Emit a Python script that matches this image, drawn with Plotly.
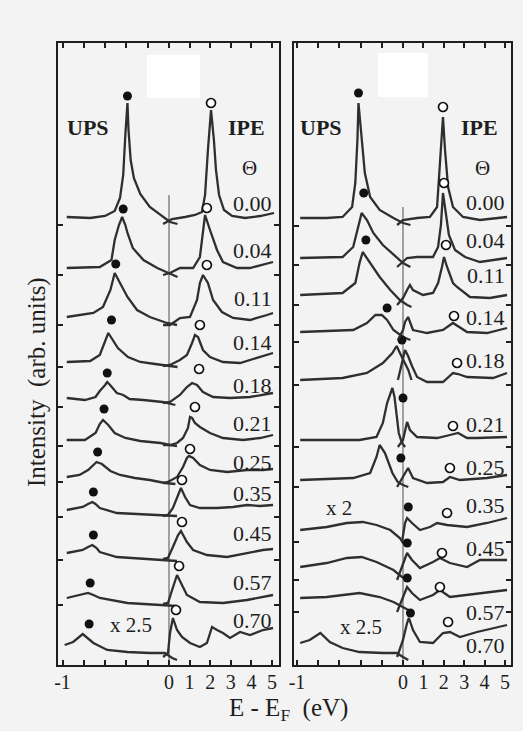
import plotly.graph_objects as go

# ---------------- data ----------------
THETA = ["0.00", "0.04", "0.11", "0.14", "0.18", "0.21", "0.25", "0.35", "0.45", "0.57", "0.70"]

# vertical offsets (baseline of every spectrum, arb. units)
L_OFF = [440, 390, 340, 298, 258, 219, 183, 148, 105, 60, 5]
R_OFF = [439, 400, 360, 323, 280, 218, 178, 123, 85, 53, 5]

# Θ label heights (arb. units)
L_LABEL_Y = [462, 415, 367, 323, 280, 242, 203, 172, 132, 83, 45]
R_LABEL_Y = [463, 425, 390, 348, 305, 241, 198, 160, 117, 53, 20]

# ---- left panel, UPS (E - EF < 0) ----
L_UPS_E = [
    [-0.96, -0.74, -0.60, -0.51, -0.46, -0.43, -0.41, -0.39, -0.38, -0.36, -0.33, -0.27, -0.18, -0.08, 0.01, 0.08],
    [-0.96, -0.65, -0.54, -0.51, -0.47, -0.44, -0.41, -0.39, -0.34, -0.24, -0.11, 0.01, 0.08],
    [-0.96, -0.71, -0.62, -0.55, -0.51, -0.46, -0.39, -0.30, -0.18, -0.02, 0.075],
    [-0.96, -0.74, -0.65, -0.60, -0.57, -0.54, -0.48, -0.385, -0.27, -0.13, 0.01, 0.08],
    [-0.96, -0.79, -0.69, -0.65, -0.60, -0.58, -0.545, -0.49, -0.43, -0.37, -0.24, -0.06, 0.06],
    [-0.96, -0.79, -0.69, -0.65, -0.62, -0.57, -0.51, -0.41, -0.27, -0.08, 0.01, 0.075],
    [-0.96, -0.84, -0.76, -0.71, -0.68, -0.63, -0.55, -0.46, -0.32, -0.18, -0.04, 0.06],
    [-0.96, -0.81, -0.76, -0.72, -0.69, -0.65, -0.49, -0.27, -0.02, 0.075],
    [-0.96, -0.81, -0.76, -0.72, -0.68, -0.65, -0.49, -0.18, -0.02, 0.075],
    [-0.96, -0.84, -0.76, -0.71, -0.65, -0.39, -0.02, 0.075],
    [-0.98, -0.90, -0.81, -0.71, -0.58, -0.39, -0.18, -0.04, 0.03, 0.075],
]
L_UPS_I = [
    [8, 7, 9, 14, 27, 50, 90, 122, 95, 65, 47, 31, 18, 10, 3, 1],
    [7, 8, 15, 35, 50, 58, 50, 42, 27, 15, 7, 1, -2],
    [8, 12, 18, 35, 52, 42, 28, 15, 8, 2, 0],
    [5, 6, 12, 25, 34, 29, 19, 10, 5, 3, 1, 0],
    [9, 7, 10, 16, 22, 25, 21, 14, 12, 8, 7, 5, 2],
    [6, 6, 13, 22, 26, 21, 13, 8, 5, 3, 1, 0],
    [5, 7, 12, 17, 20, 18, 11, 7, 4, 2, -1, -2],
    [7, 10, 13, 15, 13, 9, 4, 3, 2, 1],
    [7, 10, 13, 15, 12, 8, 3, 1, 0, -1],
    [7, 10, 12, 10, 7, 2, 0, -1],
    [15, 18, 26, 17, 10, 8, 7, 7, 2, 0],
]
# ---- left panel, IPE (E - EF > 0) ----
L_IPE_E = [
    [-0.29, 0.15, 0.78, 1.26, 1.60, 1.75, 1.89, 2.04, 2.18, 2.28, 2.43, 2.67, 3.06, 3.69, 4.42, 5.10],
    [-0.29, 0.05, 0.53, 1.17, 1.50, 1.65, 1.75, 1.99, 2.33, 2.62, 3.30, 3.93, 4.56, 5.05],
    [-0.29, 0.05, 0.53, 1.02, 1.36, 1.50, 1.65, 1.89, 2.14, 2.57, 3.11, 3.93, 4.76, 5.05],
    [-0.29, 0.05, 0.53, 0.87, 1.12, 1.26, 1.41, 1.65, 1.99, 2.62, 3.45, 4.27, 5.05],
    [-0.29, 0.05, 0.53, 0.87, 1.12, 1.36, 1.65, 2.14, 2.96, 3.93, 5.05],
    [-0.29, 0.05, 0.39, 0.68, 0.92, 1.02, 1.12, 1.26, 1.50, 1.99, 2.62, 3.59, 4.42, 5.05],
    [-0.29, -0.05, 0.39, 0.68, 0.87, 0.97, 1.17, 1.50, 1.99, 2.82, 3.79, 4.56, 5.05],
    [-0.29, -0.05, 0.19, 0.39, 0.58, 0.78, 1.02, 1.50, 2.33, 3.11, 3.79, 4.42, 5.05],
    [-0.29, -0.05, 0.19, 0.44, 0.58, 0.87, 1.17, 1.84, 2.82, 3.79, 4.56, 5.05],
    [-0.29, -0.05, 0.15, 0.34, 0.39, 0.63, 0.87, 1.50, 2.62, 3.79, 5.05],
    [-0.29, -0.05, 0.05, 0.19, 0.39, 0.63, 1.02, 1.50, 1.84, 2.09, 2.33, 2.62, 2.96, 3.45, 3.93, 4.56, 5.05],
]
L_IPE_I = [
    [1, 6, 8, 10, 13, 30, 75, 115, 85, 55, 30, 15, 9, 7, 9, 12],
    [0, 2, 7, 7, 18, 42, 60, 45, 25, 13, 7, 7, 10, 13],
    [0, 0, 7, 8, 25, 42, 50, 42, 25, 13, 7, 5, 10, 12],
    [1, 2, 7, 12, 24, 32, 30, 17, 10, 5, 4, 9, 14],
    [4, 5, 12, 20, 24, 22, 15, 10, 9, 10, 14],
    [1, 1, 3, 8, 18, 29, 28, 23, 19, 13, 8, 6, 8, 11],
    [-1, 0, 5, 15, 24, 26, 24, 17, 12, 10, 12, 12, 13],
    [1, 2, 9, 20, 29, 20, 12, 9, 9, 10, 12, 11, 12],
    [1, 2, 13, 25, 29, 18, 10, 5, 3, 7, 10, 11],
    [1, 2, 15, 27, 30, 20, 10, 3, 2, 5, 10],
    [3, 7, 27, 42, 30, 23, 17, 13, 17, 33, 30, 27, 22, 28, 25, 30, 32],
]
L_UPS_PK_E = [-0.39, -0.43, -0.50, -0.54, -0.58, -0.61, -0.67, -0.71, -0.71, -0.74, -0.75]
L_UPS_PK_I = [129, 66, 61, 47, 34, 37, 30, 25, 25, 22, 36]
L_IPE_PK_E = [2.04, 1.84, 1.84, 1.50, 1.46, 1.26, 1.02, 0.63, 0.63, 0.49, 0.34]
L_IPE_PK_I = [122, 67, 60, 42, 38, 39, 33, 37, 38, 39, 50]

# ---- right panel, UPS ----
R_UPS_E = [
    [-0.97, -0.72, -0.57, -0.48, -0.45, -0.43, -0.42, -0.39, -0.36, -0.31, -0.22, -0.09, 0.0, 0.07],
    [-0.97, -0.57, -0.47, -0.42, -0.39, -0.34, -0.28, -0.19, -0.09, 0.0, 0.07],
    [-0.97, -0.57, -0.45, -0.41, -0.38, -0.31, -0.22, -0.12, -0.03, 0.04, 0.08],
    [-0.97, -0.47, -0.34, -0.26, -0.20, -0.15, -0.09, -0.03, 0.0, 0.07],
    [-0.97, -0.57, -0.34, -0.19, -0.10, -0.06, -0.02, 0.01, 0.05, 0.08],
    [-0.97, -0.41, -0.25, -0.19, -0.15, -0.10, -0.08, -0.06, -0.04, -0.01, 0.02],
    [-0.97, -0.47, -0.31, -0.25, -0.22, -0.17, -0.10, -0.05, 0.0, 0.05],
    [-0.97, -0.72, -0.53, -0.38, -0.25, -0.12, -0.03, 0.0, 0.05],
    [-0.97, -0.72, -0.53, -0.39, -0.25, -0.09, -0.01, 0.05],
    [-0.97, -0.72, -0.41, -0.22, -0.09, 0.0, 0.05],
    [-0.97, -0.88, -0.78, -0.69, -0.57, -0.41, -0.19, -0.06, 0.0, 0.05],
]
R_UPS_I = [
    [8, 8, 9, 19, 43, 86, 123, 86, 53, 29, 16, 8, 3, 1],
    [7, 8, 18, 38, 52, 45, 32, 20, 10, 2, -2],
    [10, 12, 22, 42, 53, 42, 28, 15, 5, 0, -2],
    [10, 12, 19, 27, 27, 22, 12, 7, 5, 2],
    [5, 7, 12, 22, 32, 39, 30, 23, 15, 5],
    [7, 7, 10, 24, 44, 59, 50, 30, 14, 4, 0],
    [7, 9, 14, 30, 42, 34, 14, 5, 2, 0],
    [12, 15, 19, 20, 17, 12, 4, -1, -4],
    [13, 17, 22, 23, 18, 10, 3, 0],
    [14, 15, 19, 15, 10, 5, 2],
    [17, 20, 27, 18, 12, 8, 7, 7, 3, 0],
]
# ---- right panel, IPE ----
R_IPE_E = [
    [-0.29, 0.0, 0.69, 1.32, 1.67, 1.81, 1.96, 2.06, 2.21, 2.45, 2.94, 3.77, 5.10],
    [-0.29, 0.20, 0.69, 1.47, 1.72, 1.86, 1.96, 2.11, 2.25, 2.55, 3.04, 3.77, 5.10],
    [-0.29, 0.0, 0.20, 0.34, 0.49, 0.98, 1.47, 1.72, 1.91, 2.01, 2.16, 2.45, 2.65, 2.94, 3.28, 4.26, 5.10],
    [-0.25, 0.0, 0.10, 0.25, 0.49, 1.18, 1.96, 2.45, 3.14, 4.12, 5.10],
    [-0.25, -0.05, 0.10, 0.25, 0.44, 0.69, 1.18, 1.96, 2.45, 2.70, 3.14, 4.41, 5.10],
    [-0.25, 0.0, 0.20, 0.34, 0.69, 1.67, 2.30, 2.70, 3.14, 3.63, 5.10],
    [-0.29, 0.10, 0.25, 0.49, 1.18, 1.96, 2.30, 2.79, 4.12, 5.10],
    [-0.05, 0.10, 0.20, 0.44, 0.83, 1.32, 1.67, 2.16, 3.14, 4.12, 5.10],
    [-0.29, 0.0, 0.20, 0.44, 0.83, 1.47, 1.81, 2.30, 3.14, 3.77, 5.10],
    [-0.29, 0.0, 0.20, 0.44, 0.83, 1.47, 1.81, 2.30, 3.14, 4.12, 5.10],
    [-0.29, 0.0, 0.20, 0.29, 0.49, 0.83, 1.47, 1.96, 2.30, 2.79, 3.63, 4.41, 5.10],
]
R_IPE_I = [
    [1, 6, 8, 9, 19, 59, 109, 76, 39, 19, 9, 6, 9],
    [-2, 7, 8, 8, 18, 40, 72, 50, 30, 15, 8, 3, 7],
    [0, 7, 15, 20, 15, 10, 12, 22, 38, 48, 38, 22, 18, 13, 8, 7, 10],
    [2, 12, 20, 25, 12, 9, 12, 19, 10, 9, 14],
    [5, 23, 35, 29, 19, 8, 3, 3, 12, 11, 8, 7, 12],
    [0, 7, 25, 17, 10, 9, 12, 14, 9, 9, 10],
    [0, 14, 19, 9, 4, 5, 10, 7, 9, 12],
    [0, 19, 24, 19, 12, 15, 19, 17, 15, 19, 24],
    [0, 17, 27, 20, 12, 18, 22, 17, 13, 20, 20],
    [0, 15, 25, 19, 12, 17, 22, 15, 17, 20, 22],
    [3, 20, 37, 42, 30, 18, 17, 27, 28, 23, 28, 32, 35],
]
R_UPS_PK_E = [-0.42, -0.37, -0.35, -0.15, -0.01, 0.0, -0.02, 0.05, 0.04, 0.04, 0.07]
R_UPS_PK_I = [133, 72, 65, 34, 45, 49, 29, 35, 37, 34, 47]
R_IPE_PK_E = [1.96, 2.01, 2.11, 2.50, 2.65, 2.45, 2.30, 2.16, 1.91, 1.81, 2.21]
R_IPE_PK_I = [119, 82, 60, 26, 22, 21, 19, 29, 27, 25, 38]

UPS_TICKS = [-1, -0.8, -0.6, -0.4, -0.2, 0]
UPS_TICKTEXT = ["-1", "", "", "", "", "0"]
IPE_TICKS = [1, 2, 3, 4, 5]
IPE_TICKTEXT = ["1", "2", "3", "4", "5"]

# ---------------- layout geometry ----------------
W, H = 523, 731
ML, MR, MT, MB = 58, 11, 43, 66
PW = W - ML - MR
PH = H - MT - MB
SERIF = "Liberation Serif"
INK = "#1e1e1e"
CURVE = "#2f2f2f"
BG = "#f3f3f3"


def dom(p0, p1):
    return [max(0.0, (p0 - ML) / PW), min(1.0, (p1 - ML) / PW)]


def px(v):
    return (v - ML) / PW


def py(v):
    # pixel row -> paper fraction
    return (H - MB - v) / PH


PANEL_L = dict(left=58, right=279, zero=169, ups=106.5, ipe=20.6)
PANEL_R = dict(left=294, right=511, zero=403, ups=106.0, ipe=20.4)

fig = go.Figure()


def add_panel(xu, xi, yr, off, ue, ui, ie, ii, upe, upi, ipe, ipi):
    for k in range(len(off)):
        fig.add_trace(go.Scatter(x=ue[k], y=[off[k] + v for v in ui[k]], xaxis=xu, yaxis=yr,
                                 mode="lines", line=dict(color=CURVE, width=2.3),
                                 hoverinfo="skip", showlegend=False))
        fig.add_trace(go.Scatter(x=ie[k], y=[off[k] + v for v in ii[k]], xaxis=xi, yaxis=yr,
                                 mode="lines", line=dict(color=CURVE, width=2.3),
                                 hoverinfo="skip", showlegend=False))
    fig.add_trace(go.Scatter(x=upe, y=[o + v for o, v in zip(off, upi)], xaxis=xu, yaxis=yr,
                             mode="markers", cliponaxis=False,
                             marker=dict(size=9, color="#111111", line=dict(width=0)),
                             hoverinfo="skip", showlegend=False))
    fig.add_trace(go.Scatter(x=ipe, y=[o + v for o, v in zip(off, ipi)], xaxis=xi, yaxis=yr,
                             mode="markers", cliponaxis=False,
                             marker=dict(size=9, color="white", line=dict(width=1.7, color="#111111")),
                             hoverinfo="skip", showlegend=False))


# frame subplots first (so they sit underneath)
fig.add_trace(go.Scatter(x=[], y=[], xaxis="x5", yaxis="y", showlegend=False))
fig.add_trace(go.Scatter(x=[], y=[], xaxis="x6", yaxis="y2", showlegend=False))
add_panel("x", "x2", "y", L_OFF, L_UPS_E, L_UPS_I, L_IPE_E, L_IPE_I,
          L_UPS_PK_E, L_UPS_PK_I, L_IPE_PK_E, L_IPE_PK_I)
add_panel("x3", "x4", "y2", R_OFF, R_UPS_E, R_UPS_I, R_IPE_E, R_IPE_I,
          R_UPS_PK_E, R_UPS_PK_I, R_IPE_PK_E, R_IPE_PK_I)

tickfont = dict(family=SERIF, size=20, color=INK)
common_x = dict(showgrid=False, zeroline=False, showline=False, ticks="inside", ticklen=5,
                tickwidth=2, tickcolor=INK, mirror="ticks", tickfont=tickfont,
                ticklabelstandoff=3, fixedrange=True)


def axes_for(p, yname):
    z = p["zero"]
    ups = dict(domain=dom(p["left"], z + 10),
               range=[(p["left"] - z) / p["ups"], 10 / p["ups"]],
               anchor=yname, tickvals=UPS_TICKS, ticktext=UPS_TICKTEXT, **common_x)
    ipe = dict(domain=dom(z - 8, p["right"]),
               range=[-8 / p["ipe"], (p["right"] - z) / p["ipe"]],
               anchor=yname, tickvals=IPE_TICKS, ticktext=IPE_TICKTEXT, **common_x)
    full = dict(domain=dom(p["left"], p["right"]), range=[0, 1], anchor=yname,
                showline=True, linewidth=2, linecolor=INK, mirror=True, ticks="",
                showticklabels=False, showgrid=False, zeroline=False, fixedrange=True)
    return ups, ipe, full


uL, iL, fL = axes_for(PANEL_L, "y")
uR, iR, fR = axes_for(PANEL_R, "y2")

common_y = dict(domain=[0, 1], range=[0, PH], showline=True, linewidth=2, linecolor=INK,
                mirror="ticks", ticks="inside", ticklen=5, tickwidth=2, tickcolor=INK,
                showticklabels=False, showgrid=False, zeroline=False, fixedrange=True)

annotations = []


def txt(x, y, s, xref, yref, size, bold=False, **kw):
    annotations.append(dict(x=x, y=y, xref=xref, yref=yref, text=("<b>%s</b>" % s) if bold else s,
                            showarrow=False, font=dict(family=SERIF, size=size, color=INK), **kw))


for k, t in enumerate(THETA):
    txt(5.12, L_LABEL_Y[k], t, "x2", "y", 22, xanchor="right")
    txt(5.12, R_LABEL_Y[k], t, "x4", "y2", 22, xanchor="right")

txt(-0.76, 538, "UPS", "x", "y", 22, bold=True)
txt(3.74, 538, "IPE", "x2", "y", 22, bold=True)
txt(3.93, 497, "Θ", "x2", "y", 21)
txt(-0.77, 538, "UPS", "x3", "y2", 22, bold=True)
txt(3.73, 538, "IPE", "x4", "y2", 22, bold=True)
txt(3.92, 497, "Θ", "x4", "y2", 21)
txt(-0.36, 40, "x 2.5", "x", "y", 21)
txt(-0.60, 157, "x 2", "x3", "y2", 21)
txt(-0.40, 38, "x 2.5", "x3", "y2", 21)

annotations.append(dict(x=px(288), y=py(709), xref="paper", yref="paper",
                        xanchor="center", yanchor="middle",
                        text="E - E<sub>F</sub>  (eV)", showarrow=False,
                        font=dict(family=SERIF, size=25, color=INK)))
annotations.append(dict(x=px(37), y=py(382), xref="paper", yref="paper",
                        xanchor="center", yanchor="middle",
                        text="Intensity  (arb. units)", showarrow=False, textangle=-90,
                        font=dict(family=SERIF, size=25, color=INK)))

shapes = [
    dict(type="line", xref="x", yref="y", x0=0, x1=0, y0=0, y1=470,
         line=dict(color="#6a6a6a", width=1.2), layer="below"),
    dict(type="line", xref="x3", yref="y2", x0=0, x1=0, y0=0, y1=458,
         line=dict(color="#6a6a6a", width=1.2), layer="below"),
    # white paper patches of the scan
    dict(type="rect", xref="paper", yref="paper", x0=px(147), x1=px(200),
         y0=py(98), y1=py(55), fillcolor="white", line=dict(width=0), layer="below"),
    dict(type="rect", xref="paper", yref="paper", x0=px(378), x1=px(428),
         y0=py(97), y1=py(53), fillcolor="white", line=dict(width=0), layer="below"),
]

fig.update_layout(
    width=W, height=H, margin=dict(l=ML, r=MR, t=MT, b=MB, pad=0),
    paper_bgcolor=BG, plot_bgcolor="rgba(0,0,0,0)", showlegend=False,
    xaxis=uL, xaxis2=iL, xaxis5=fL,
    xaxis3=uR, xaxis4=iR, xaxis6=fR,
    yaxis=dict(anchor="x5", tickvals=L_OFF[:10], **common_y),
    yaxis2=dict(anchor="x6", tickvals=R_OFF[:10], **common_y),
    annotations=annotations, shapes=shapes,
)

fig.write_html("out.html", config=dict(displayModeBar=False, staticPlot=True))
